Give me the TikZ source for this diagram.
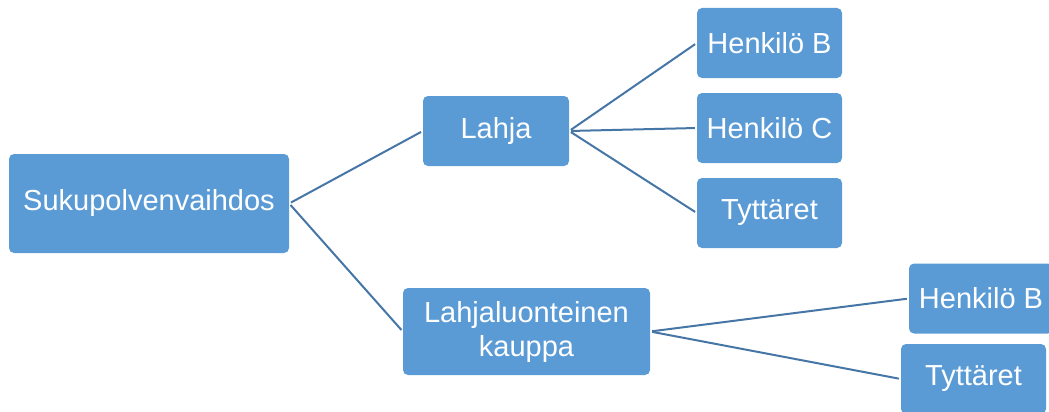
\documentclass[tikz,border=0pt]{standalone}
\usepackage{fontspec}
\setmainfont{Liberation Sans}
\begin{document}
\begin{tikzpicture}[x=1pt,y=-1pt,
  box/.style={rectangle, rounded corners=5pt, fill=boxblue, draw=none,
    text=white, inner sep=0pt, align=center,
    font=\fontsize{29}{34}\selectfont},
  link/.style={draw=linkblue, line width=2pt, shorten <=2pt, shorten >=2pt}]
\definecolor{boxblue}{RGB}{91,155,213}
\definecolor{linkblue}{RGB}{70,118,166}
\useasboundingbox (0,0) rectangle (1049,412);
\clip (0,0) rectangle (1049,412);

% tree nodes
\node[box, minimum width=280pt, minimum height=99pt] (root) at (149,203.5) {Sukupolvenvaihdos};
\node[box, minimum width=146pt, minimum height=70pt] (lahja) at (496,131) {Lahja};
\node[box, minimum width=247pt, minimum height=87pt] (kauppa) at (526.5,331.5) {Lahjaluonteinen\\kauppa};
\node[box, minimum width=145pt, minimum height=70pt] (hb) at (769.5,43) {Henkilö B};
\node[box, minimum width=145pt, minimum height=70pt] (hc) at (769.5,128) {Henkilö C};
\node[box, minimum width=145pt, minimum height=70pt] (ty) at (769.5,213) {Tyttäret};
\node[box, minimum width=144pt, minimum height=70pt] (hb2) at (981,298.5) {Henkilö B};
\node[box, minimum width=145pt, minimum height=70pt] (ty2) at (973.5,379) {Tyttäret};

% connectors
\draw[link] (root.east) -- (lahja.west);
\draw[link] (root.east) -- (kauppa.west);
\draw[link] (lahja.east) -- (hb.west);
\draw[link] (lahja.east) -- (hc.west);
\draw[link] (lahja.east) -- (ty.west);
\draw[link] (kauppa.east) -- (hb2.west);
\draw[link] (kauppa.east) -- (ty2.west);
\end{tikzpicture}
\end{document}
